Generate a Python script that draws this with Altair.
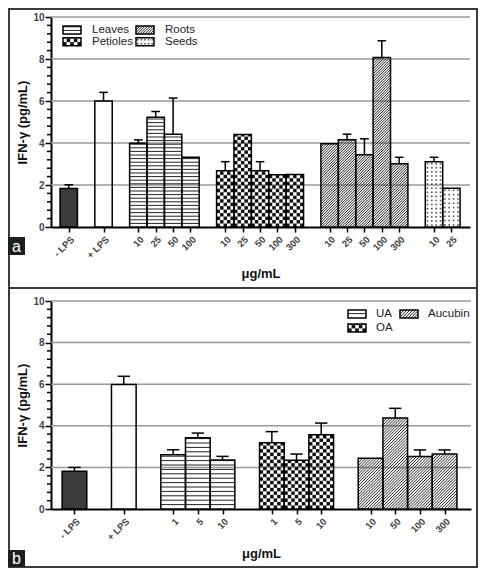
import json
import altair as alt
import numpy as np
import pandas as pd

FONT = "Liberation Sans, Arial, Helvetica, sans-serif"

# ---------------- data ----------------
a_groups = ["- LPS", "+ LPS", "Leaves", "Leaves", "Leaves", "Leaves",
            "Petioles", "Petioles", "Petioles", "Petioles", "Petioles",
            "Roots", "Roots", "Roots", "Roots", "Roots", "Seeds", "Seeds"]
a_labels = ["- LPS", "+ LPS", "10", "25", "50", "100", "10", "25", "50", "100", "300",
            "10", "25", "50", "100", "300", "10", "25"]
a_values = [1.83, 6.00, 3.99, 5.23, 4.42, 3.32, 2.68, 4.40, 2.68, 2.49, 2.50,
            3.97, 4.15, 3.44, 8.07, 3.01, 3.11, 1.85]
a_errors = [2.01, 6.41, 4.15, 5.50, 6.14, None, 3.11, None, 3.11, None, None,
            None, 4.42, 4.20, 8.87, 3.32, 3.32, None]
a_legend = ["Leaves", "Petioles", "Roots", "Seeds"]

b_groups = ["- LPS", "+ LPS", "UA", "UA", "UA", "OA", "OA", "OA",
            "Aucubin", "Aucubin", "Aucubin", "Aucubin"]
b_labels = ["- LPS", "+ LPS", "1", "5", "10", "1", "5", "10", "10", "50", "100", "300"]
b_values = [1.81, 5.98, 2.61, 3.43, 2.36, 3.19, 2.34, 3.57, 2.44, 4.38, 2.53, 2.64]
b_errors = [2.00, 6.38, 2.85, 3.65, 2.53, 3.72, 2.64, 4.13, None, 4.84, 2.84, 2.84]
b_legend = ["UA", "OA", "Aucubin"]

y_major = [0, 2, 4, 6, 8, 10]
y_grid = [2, 4, 6, 8, 10]
y_minor = [0.4, 0.8, 1.2, 1.6, 2.4, 2.8, 3.2, 3.6, 4.4, 4.8, 5.2, 5.6,
           6.4, 6.8, 7.2, 7.6, 8.4, 8.8, 9.2, 9.6]

PATTERN = {"- LPS": "dark", "+ LPS": "plain", "Leaves": "hstripe", "UA": "hstripe",
           "Petioles": "check", "OA": "check", "Roots": "diag", "Aucubin": "diag",
           "Seeds": "dots"}


def slot_positions(groups):
    pos, p, prev = [], 0, None
    for g in groups:
        if prev is not None:
            p += 1 if g == prev else 2
        pos.append(p)
        prev = g
    return pos


def panel(groups, labels, values, errors, legend, g):
    pos = slot_positions(groups)
    W, H = g["W"], g["H"]
    xlo, xhi = -0.5 - g["padl"], max(pos) + 0.5 + g["padr"]
    PXU = W / (xhi - xlo)
    PYU = H / 10.0

    bars = pd.DataFrame(dict(kind="bar", pos=pos, label=labels, group=groups,
                             value=values, err=[np.nan if e is None else e for e in errors]))
    leg = pd.DataFrame(dict(kind="leg", group=legend, idx=list(range(len(legend)))))
    df = pd.concat([bars, leg], ignore_index=True)
    df["pat"] = df["group"].map(PATTERN)

    arr = [""] * (max(pos) + 1)
    for p, l in zip(pos, labels):
        arr[p] = l
    label_expr = json.dumps(arr) + "[datum.value]"

    xs = alt.Scale(domain=[xlo, xhi], nice=False, zero=False)
    ys = alt.Scale(domain=[0, 10], nice=False, zero=False)

    base = alt.Chart(df).transform_calculate(
        x0=f"datum.kind === 'bar' ? datum.pos - 0.5 : {xlo} + ({g['lx']} + floor(datum.idx / 2) * {g['colw']}) / {PXU}"
    ).transform_calculate(
        x1=f"datum.kind === 'bar' ? datum.pos + 0.5 : datum.x0 + {g['lw']} / {PXU}"
    ).transform_calculate(
        y1=f"datum.kind === 'bar' ? datum.value : 10 - ({g['ly']} + (datum.idx % 2) * {g['rowh']}) / {PYU}"
    ).transform_calculate(
        y0=f"datum.kind === 'bar' ? 0 : datum.y1 - {g['lh']} / {PYU}"
    ).transform_calculate(
        wpx=f"(datum.x1 - datum.x0) * {PXU}",
        hpx=f"(datum.y1 - datum.y0) * {PYU}",
    )

    xaxis = alt.Axis(values=pos, labelExpr=label_expr, title="μg/mL", labelAngle=315,
                     labelFont=FONT, labelFontSize=9.5, labelFontWeight="bold", labelColor="#444",
                     labelOverlap=False, labelFlush=False, labelPadding=2,
                     tickSize=5, tickWidth=1.5, tickColor="black",
                     domainColor="black", domainWidth=2, grid=False,
                     titleFont=FONT, titleFontSize=13, titleFontWeight="bold", titleColor="#111",
                     titleY=g["xty"], titleBaseline="middle")
    yaxis = alt.Axis(values=y_major, title="IFN-γ (pg/mL)", grid=False,
                     tickSize=6, tickWidth=1.5, tickColor="black", domainColor="black", domainWidth=2,
                     labelFont=FONT, labelFontSize=10, labelFontWeight="bold", labelColor="#444",
                     labelPadding=1, labelOverlap=False,
                     titleFont=FONT, titleFontSize=13, titleFontWeight="bold", titleColor="#111",
                     titleX=-29, titleY=H / 2, titleAngle=270, titleAlign="center",
                     titleBaseline="middle")

    def X(f):
        return alt.X(f, type="quantitative", scale=xs, axis=xaxis)

    def Y(f):
        return alt.Y(f, type="quantitative", scale=ys, axis=yaxis)

    grid = alt.Chart(pd.DataFrame({"gy": y_grid})).mark_rule(color="#9a9a9a", strokeWidth=1.5).encode(
        x=alt.value(0), x2=alt.value(W), y=Y("gy"))
    minor = alt.Chart(pd.DataFrame({"my": y_minor})).mark_rule(color="black", strokeWidth=1.5).encode(
        x=alt.value(-4), x2=alt.value(0), y=Y("my"))

    fill = base.mark_rect(strokeWidth=0).encode(
        x=X("x0"), x2="x1:Q", y=Y("y0"), y2="y1:Q",
        color=alt.condition("datum.pat === 'dark'", alt.value("#3b3b3b"), alt.value("white")),
    )

    hstripe = base.transform_filter("datum.pat === 'hstripe'").transform_calculate(
        v=f"sequence({g['hs']}, datum.hpx - 0.5, {g['hs']})"
    ).transform_flatten(["v"]).transform_calculate(
        yy=f"datum.y0 + datum.v / {PYU}"
    ).mark_rule(color="#222", strokeWidth=1).encode(x=X("x0"), x2="x1", y=Y("yy"))

    check = base.transform_filter("datum.pat === 'check'").transform_calculate(
        nc=f"max(1, round(datum.wpx / {g['sq']}))"
    ).transform_calculate(
        cw="datum.wpx / datum.nc"
    ).transform_calculate(
        r="sequence(0, ceil(datum.hpx / datum.cw - 0.2))"
    ).transform_flatten(["r"]).transform_calculate(
        c="sequence(0, datum.nc)"
    ).transform_flatten(["c"]).transform_filter(
        "(datum.r + datum.c) % 2 === 0"
    ).transform_calculate(
        cx0=f"datum.x0 + datum.c * datum.cw / {PXU}",
        cx1=f"datum.x0 + (datum.c + 1) * datum.cw / {PXU}",
        cy0=f"datum.y0 + datum.r * datum.cw / {PYU}",
        cy1=f"min(datum.y0 + (datum.r + 1) * datum.cw / {PYU}, datum.y1)",
    ).mark_rect(color="#111", strokeWidth=0).encode(x=X("cx0"), x2="cx1", y=Y("cy0"), y2="cy1")

    diag = base.transform_filter("datum.pat === 'diag'").transform_calculate(
        k=f"sequence(-datum.wpx + {g['dg']} / 2, datum.hpx, {g['dg']})"
    ).transform_flatten(["k"]).transform_calculate(
        us="max(0, -datum.k)", ue="min(datum.wpx, datum.hpx - datum.k)"
    ).transform_filter("datum.ue > datum.us + 0.5").transform_calculate(
        dx0=f"datum.x0 + datum.us / {PXU}",
        dx1=f"datum.x0 + datum.ue / {PXU}",
        dy0=f"datum.y0 + (datum.us + datum.k) / {PYU}",
        dy1=f"datum.y0 + (datum.ue + datum.k) / {PYU}",
    ).mark_rule(color="#222", strokeWidth=1).encode(x=X("dx0"), x2="dx1", y=Y("dy0"), y2="dy1")

    dots = base.transform_filter("datum.pat === 'dots'").transform_calculate(
        nr=f"max(1, floor(datum.hpx / {g['ds']}))",
        ncd=f"max(1, round(datum.wpx / {g['ds']}))",
    ).transform_calculate(
        rr="sequence(0, datum.nr)"
    ).transform_flatten(["rr"]).transform_calculate(
        cc="sequence(0, datum.ncd)"
    ).transform_flatten(["cc"]).transform_calculate(
        ppx=f"datum.x0 + (datum.cc + 0.5) * datum.wpx / datum.ncd / {PXU}",
        ppy=f"datum.y0 + (datum.rr + 0.5) * datum.hpx / datum.nr / {PYU}",
    ).mark_square(size=2.5, color="#555", opacity=1).encode(x=X("ppx"), y=Y("ppy"))

    outline = base.mark_rect(filled=False, color="black", strokeWidth=1.5).encode(
        x=X("x0"), x2="x1", y=Y("y0"), y2="y1")

    ebase = base.transform_filter("datum.kind === 'bar' && isValid(datum.err)")
    estem = ebase.mark_rule(color="black", strokeWidth=1.5).encode(x=X("pos"), y=Y("value"), y2="err")
    ecap = ebase.transform_calculate(ca="datum.pos - 0.25", cb="datum.pos + 0.25").mark_rule(
        color="black", strokeWidth=1.5).encode(x=X("ca"), x2="cb", y=Y("err"))

    legtext = base.transform_filter("datum.kind === 'leg'").transform_calculate(
        tx=f"datum.x1 + {g['tgap']} / {PXU}", ty="(datum.y0 + datum.y1) / 2"
    ).mark_text(align="left", baseline="middle", font=FONT, fontSize=11.5, color="#222").encode(
        x=X("tx"), y=Y("ty"), text="group:N")

    one = pd.DataFrame({"t": [g["tag"]]})
    frame = alt.Chart(one).mark_rect(filled=False, color="#3c3c3c", strokeWidth=2).encode(
        x=alt.value(-42), x2=alt.value(426), y=alt.value(g["ftop"]), y2=alt.value(g["fbot"]))
    tagbox = alt.Chart(one).mark_rect(color="#1e1e1e").encode(
        x=alt.value(-43), x2=alt.value(-26), y=alt.value(g["ty0"]), y2=alt.value(g["ty1"]))
    tagtext = alt.Chart(one).mark_text(color="white", font=FONT, fontSize=16, align="center",
                                       baseline="middle").encode(
        x=alt.value(-34.5), y=alt.value((g["ty0"] + g["ty1"]) / 2 + 0.5), text="t:N")

    return alt.layer(fill, frame, grid, hstripe, check, diag, dots, outline, estem, ecap,
                     minor, legtext, tagbox, tagtext).properties(width=W, height=H)


geo_a = dict(W=419, H=210, padl=0.52, padr=0.57, hs=3.6, sq=3.4, dg=2.6, ds=4.0,
             lx=12, ly=9, lw=18, lh=8, colw=73, rowh=11.7, tgap=11, xty=46,
             ftop=-8, fbot=271, ty0=220, ty1=238, tag="a")
geo_b = dict(W=420, H=208, padl=0.45, padr=0.57, hs=4.4, sq=3.5, dg=2.9, ds=4.0,
             lx=297, ly=9, lw=18, lh=8, colw=52, rowh=14, tgap=10, xty=44,
             ftop=-13, fbot=266, ty0=249, ty1=266, tag="b")

pa = panel(a_groups, a_labels, a_values, a_errors, a_legend, geo_a)
pb = panel(b_groups, b_labels, b_values, b_errors, b_legend, geo_b)

chart = alt.vconcat(pa, pb, spacing=74, bounds="flush").properties(
    padding=0, background="white"
).configure(font=FONT).configure_view(strokeWidth=0)

chart.save("out.html", embed_options={"renderer": "svg", "actions": False})
